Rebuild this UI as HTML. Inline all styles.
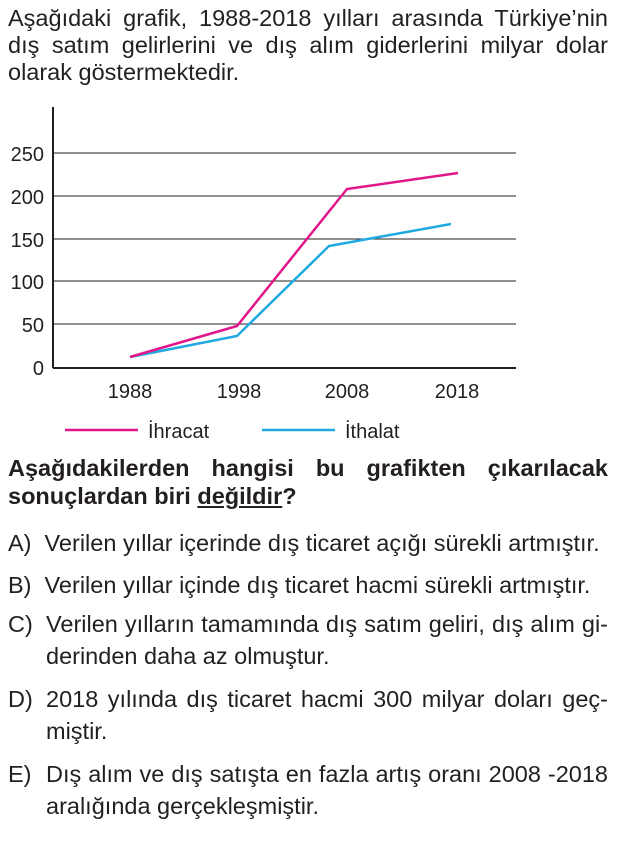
<!DOCTYPE html>
<html><head><meta charset="utf-8"><style>
body{margin:0;width:636px;height:859px;background:#fff;font-family:"Liberation Sans",sans-serif;color:#231f20;position:relative;overflow:hidden}
.t{position:absolute;font-size:23.5px;white-space:nowrap}
.j{position:absolute;left:8px;width:600px;font-size:23.5px;text-align:justify;text-align-last:justify;white-space:nowrap}
</style></head><body>
<div class="j" style="top:5px">Aşağıdaki grafik, 1988-2018 yılları arasında Türkiye’nin</div>
<div class="j" style="top:32px">dış satım gelirlerini ve dış alım giderlerini milyar dolar</div>
<div class="t" style="left:8px;top:59px">olarak göstermektedir.</div>
<svg style="position:absolute;left:0;top:0" width="636" height="460">
<g stroke="#231f20" stroke-width="1">
<line x1="53" y1="153" x2="516" y2="153"/><line x1="53" y1="196" x2="516" y2="196"/>
<line x1="53" y1="239" x2="516" y2="239"/><line x1="53" y1="281" x2="516" y2="281"/>
<line x1="53" y1="324" x2="516" y2="324"/>
</g>
<line x1="53" y1="107" x2="53" y2="368" stroke="#231f20" stroke-width="2"/>
<line x1="53" y1="368" x2="516" y2="368" stroke="#231f20" stroke-width="2"/>
<g font-size="20" fill="#231f20" text-anchor="end">
<text x="44" y="161">250</text><text x="44" y="204">200</text><text x="44" y="247">150</text>
<text x="44" y="289">100</text><text x="44" y="332">50</text><text x="44" y="375">0</text>
</g>
<g font-size="20" fill="#231f20" text-anchor="middle">
<text x="130" y="398">1988</text><text x="239" y="398">1998</text><text x="347" y="398">2008</text><text x="457" y="398">2018</text>
</g>
<polyline points="130,357 237,336 329,246 451,224" fill="none" stroke="#1fa9e1" stroke-width="2.5"/>
<polyline points="130,357 237,326 347,189 458,173" fill="none" stroke="#e0168a" stroke-width="2.5"/>
<line x1="65" y1="430" x2="138" y2="430" stroke="#e0168a" stroke-width="2.5"/>
<line x1="262" y1="430" x2="335" y2="430" stroke="#1fa9e1" stroke-width="2.5"/>
<g font-size="20" fill="#231f20"><text x="148" y="438">İhracat</text><text x="345" y="438">İthalat</text></g>
</svg>
<div class="j" style="top:455px;font-weight:bold">Aşağıdakilerden hangisi bu grafikten çıkarılacak</div>
<div class="t" style="left:8px;top:483px;font-weight:bold">sonuçlardan biri <span style="text-decoration:underline">değildir</span>?</div>
<div class="t" style="left:8px;top:530px">A)&nbsp; Verilen yıllar içerinde dış ticaret açığı sürekli artmıştır.</div>
<div class="t" style="left:8px;top:572px">B)&nbsp; Verilen yıllar içinde dış ticaret hacmi sürekli artmıştır.</div>
<div class="t" style="left:8px;top:611px">C)</div>
<div class="j" style="left:46px;width:562px;top:611px">Verilen yılların tamamında dış satım geliri, dış alım gi-</div>
<div class="t" style="left:46px;top:643px">derinden daha az olmuştur.</div>
<div class="t" style="left:8px;top:686px">D)</div>
<div class="j" style="left:46px;width:562px;top:686px">2018 yılında dış ticaret hacmi 300 milyar doları geç-</div>
<div class="t" style="left:46px;top:718px">miştir.</div>
<div class="t" style="left:8px;top:761px">E)</div>
<div class="j" style="left:46px;width:562px;top:761px">Dış alım ve dış satışta en fazla artış oranı 2008 -2018</div>
<div class="t" style="left:46px;top:793px">aralığında gerçekleşmiştir.</div>
</body></html>
